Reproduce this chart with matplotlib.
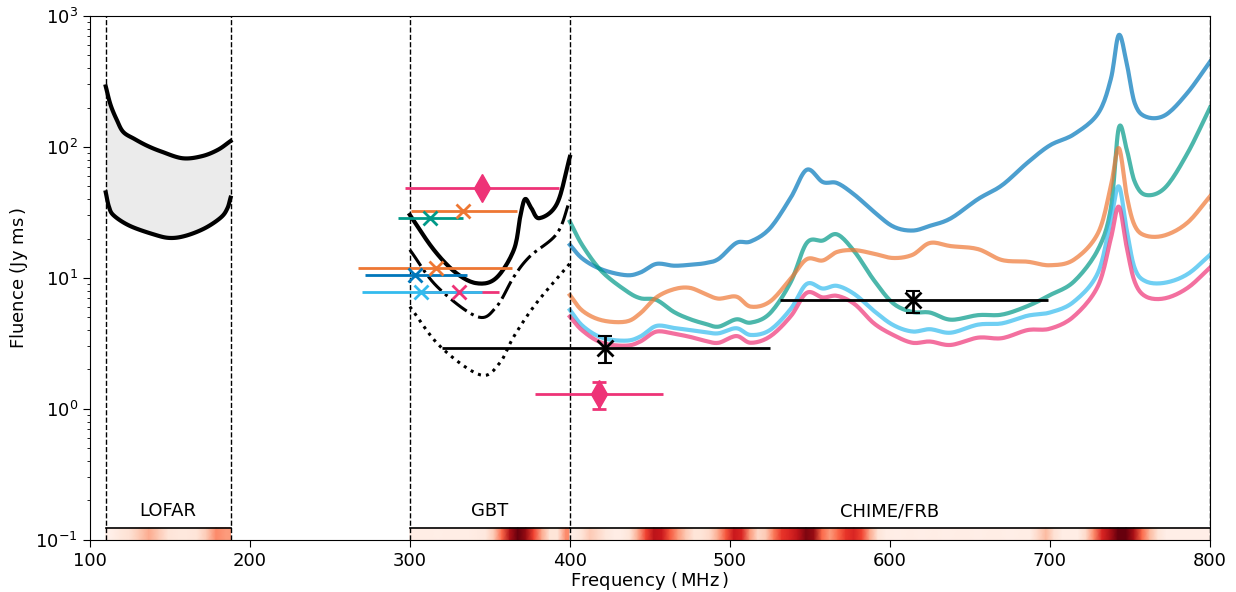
import matplotlib
matplotlib.use('Agg')
import matplotlib.pyplot as plt
import numpy as np

# LOFAR sensitivity band (upper / lower edge)
lofar_up_f = [110, 113, 117, 121, 128, 136, 145, 158, 170, 180, 188]
lofar_up_F = [290, 210, 160, 130, 115, 102, 92, 82, 85, 95, 111]
lofar_lo_f = [110, 112, 115, 125, 140, 150, 160, 172, 182, 186, 188]
lofar_lo_F = [45, 35, 30, 25, 21.5, 20.2, 21, 24, 29, 34, 41]

# GBT thresholds
gbt_solid_f = [300, 315, 329, 342, 354, 365, 369, 372, 376, 381, 392, 400]
gbt_solid_F = [30.3, 16.4, 10.9, 9.1, 10.0, 16.4, 29.4, 40, 34, 28.6, 37, 84]
gbt_dashdot_f = [300, 317, 342, 354, 365, 375, 392, 400]
gbt_dashdot_F = [16.4, 8.6, 5.07, 6.0, 10.2, 14.6, 21.9, 39.4]
gbt_dot_f = [300, 319, 344, 356, 365, 379, 400]
gbt_dot_F = [6.04, 3.0, 1.82, 2.23, 3.57, 6.4, 12.9]

# CHIME/FRB thresholds
chime_f = [400, 408, 420, 435, 444, 454, 465, 475, 485, 493, 504, 513, 525,
           538, 548, 558, 567, 578, 590, 602, 614, 625, 638, 655, 670, 686,
           700, 715, 730, 738, 743, 748, 753, 760, 772, 786, 800]
chime_blue = [17.9, 14.0, 11.6, 10.5, 11.0, 12.8, 12.4, 12.6, 13.0, 14.0, 18.5, 19.0, 23.9,
              41, 67, 54, 53, 43, 32, 24.7, 23, 25, 28.5, 40, 51, 76,
              103, 125, 180, 330, 716, 430, 215, 170, 175, 260, 448]
chime_teal = [26.9, 17.6, 11.2, 8.0, 7.0, 6.8, 5.5, 4.85, 4.45, 4.25, 4.83, 4.56, 5.37,
              9.3, 18.5, 19.3, 21.5, 15.8, 9.6, 6.4, 5.5, 5.44, 4.8, 5.2, 5.25, 6.1,
              7.4, 9.4, 16.5, 34, 140, 95, 54, 43, 49, 90, 200]
chime_orange = [7.4, 5.6, 4.75, 4.64, 5.37, 7.1, 8.2, 8.4, 7.5, 6.95, 7.2, 6.04, 6.6,
                9.9, 13.9, 13.6, 15.8, 16.3, 15.3, 14.2, 15.0, 18.5, 17.5, 16.6, 13.7, 13.3,
                12.5, 13.8, 22, 50, 98, 42, 25, 21, 21.2, 26.5, 42]
chime_cyan = [5.7, 4.3, 3.5, 3.32, 3.57, 4.3, 4.15, 4.0, 3.85, 3.78, 4.13, 3.67, 4.0,
              5.8, 9.0, 8.3, 8.7, 7.5, 5.6, 4.37, 3.9, 4.06, 3.82, 4.4, 4.5, 5.15,
              5.45, 6.6, 11, 28, 50, 23, 11.8, 9.4, 9.2, 10.7, 15]
chime_pink = [5.07, 3.95, 3.2, 3.04, 3.27, 3.89, 3.75, 3.55, 3.3, 3.2, 3.6, 3.2, 3.57,
              5.1, 7.7, 7.1, 7.3, 6.3, 4.5, 3.67, 3.2, 3.27, 3.08, 3.5, 3.47, 4.0,
              4.1, 5.1, 8.7, 20, 35, 17, 9.3, 7.2, 7.0, 8.4, 12]
chime_colors = ['#0077bb', '#009988', '#ee7733', '#33bbee', '#ee3377']

# detections / limits: (freq, fluence, freq lo, freq hi)
cross_f = [333, 312.7, 316.4, 303.3, 307, 331]
cross_F = [32.4, 28.7, 11.9, 10.5, 7.8, 7.8]
cross_lo = [301, 292.7, 267.7, 272, 270, 306]
cross_hi = [367, 333.3, 364, 336, 345, 356]
cross_col = ['#ee7733', '#009988', '#ee7733', '#0077bb', '#33bbee', '#ee3377']
draw_order = [0, 1, 2, 3, 5, 4]

diam_f = [345, 418]
diam_F = [48.6, 1.3]
diam_lo = [297, 378]
diam_hi = [393, 458]
diam_yerr = [0, 0.3]

star_f = [422, 614.7]
star_F = [2.93, 6.8]
star_lo = [320, 531]
star_hi = [525, 699]
star_ylo = [0.7, 1.4]
star_yhi = [0.7, 1.2]

# band strips (0..1 on Reds colormap)
lofar_strip_f = [110, 113, 119, 125, 131, 137, 143, 149, 155, 161, 167, 173, 179, 185, 188]
lofar_strip = [0.03, 0.03, 0.08, 0.12, 0.2, 0.3, 0.2, 0.1, 0.08, 0.08, 0.1, 0.2, 0.4, 0.35, 0.35]
gbt_strip_f = [300] + list(np.arange(302.5, 400, 5)) + [400]
gbt_strip = [0.05, 0.05, 0.05, 0.05, 0.04, 0.05, 0.05, 0.05, 0.05, 0.06, 0.08,
             0.2, 0.5, 0.85, 1.0, 0.9, 0.6, 0.3, 0.1, 0.1, 0.4, 0.4]
chime_strip_f = [400] + list(np.arange(402.5, 800, 5)) + [800]
chime_strip = [0.05, 0.05, 0.1, 0.2, 0.15, 0.08, 0.05, 0.05, 0.1, 0.3, 0.6,
               0.8, 0.75, 0.55, 0.35, 0.2, 0.1, 0.1, 0.15, 0.3, 0.55,
               0.75, 0.7, 0.35, 0.15, 0.2, 0.45, 0.65, 0.7, 0.8, 0.95,
               0.9, 0.5, 0.35, 0.5, 0.65, 0.7, 0.6, 0.3, 0.1, 0.05,
               0.04, 0.04, 0.05, 0.04, 0.04, 0.05, 0.04, 0.04, 0.05, 0.05,
               0.04, 0.04, 0.05, 0.05, 0.04, 0.04, 0.05, 0.05, 0.15, 0.25,
               0.12, 0.05, 0.05, 0.05, 0.15, 0.4, 0.7, 0.85, 1.0, 1.0,
               0.85, 0.5, 0.25, 0.1, 0.04, 0.04, 0.04, 0.04, 0.04, 0.04, 0.04]

band_edges = [110, 188, 300, 400, 800]
band_names = ['LOFAR', 'GBT', 'CHIME/FRB']
band_ranges = [(110, 188), (300, 400), (400, 800)]


def smooth(x, y, n=12):
    # Catmull-Rom through the read points (in log-fluence), only for drawing
    P = np.column_stack([np.asarray(x, float), np.log10(y)])
    P = np.vstack([2 * P[0] - P[1], P, 2 * P[-1] - P[-2]])
    t = np.linspace(0, 1, n, endpoint=False)[:, None]
    out = []
    for i in range(1, len(P) - 2):
        p0, p1, p2, p3 = P[i - 1], P[i], P[i + 1], P[i + 2]
        out.append(0.5 * (2 * p1 + (p2 - p0) * t + (2 * p0 - 5 * p1 + 4 * p2 - p3) * t ** 2
                          + (3 * p1 - p0 - 3 * p2 + p3) * t ** 3))
    out.append(P[-2][None])
    out = np.vstack(out)
    return out[:, 0], 10 ** out[:, 1]


fig = plt.figure(figsize=(12.36, 5.92), dpi=100)
ax = fig.add_axes([0.0726, 0.088, 0.9064, 0.885])
ax.set_yscale('log')

# LOFAR
ux, uy = smooth(lofar_up_f, lofar_up_F)
lx, ly = smooth(lofar_lo_f, lofar_lo_F)
ax.fill_between(ux, uy, np.interp(ux, lx, ly), color='#ebebeb', lw=0, zorder=1)
ax.plot(ux, uy, color='k', lw=3, zorder=3)
ax.plot(lx, ly, color='k', lw=3, zorder=3)

# GBT
ax.plot(*smooth(gbt_solid_f, gbt_solid_F), color='k', lw=3, zorder=3)
ax.plot(*smooth(gbt_dashdot_f, gbt_dashdot_F), color='k', lw=2.2, ls='-.', zorder=3)
ax.plot(*smooth(gbt_dot_f, gbt_dot_F), color='k', lw=2.2, ls=':', zorder=3)

# CHIME
for vals, c in zip([chime_blue, chime_teal, chime_orange, chime_cyan, chime_pink], chime_colors):
    ax.plot(*smooth(chime_f, vals), color=c, lw=3, alpha=0.7, zorder=2)

for i in draw_order:
    ax.errorbar(cross_f[i], cross_F[i],
                xerr=[[cross_f[i] - cross_lo[i]], [cross_hi[i] - cross_f[i]]],
                fmt='x', color=cross_col[i], ms=10, mew=2, elinewidth=2, zorder=4)

for i in range(len(diam_f)):
    ax.errorbar(diam_f[i], diam_F[i],
                xerr=[[diam_f[i] - diam_lo[i]], [diam_hi[i] - diam_f[i]]],
                fmt='d', color='#ee3377', ms=14, elinewidth=2, zorder=4)
    if diam_yerr[i]:
        ax.errorbar(diam_f[i], diam_F[i], yerr=diam_yerr[i], fmt='none',
                    ecolor='#ee3377', elinewidth=2, capsize=5, capthick=2, zorder=4)

for i in range(len(star_f)):
    ax.errorbar(star_f[i], star_F[i],
                xerr=[[star_f[i] - star_lo[i]], [star_hi[i] - star_f[i]]],
                fmt='x', color='k', ms=12, mew=2, elinewidth=2, zorder=4)
    ax.errorbar(star_f[i], star_F[i], yerr=[[star_ylo[i]], [star_yhi[i]]], fmt='none',
                ecolor='k', elinewidth=2, capsize=5, capthick=1.5, zorder=4)

# strips
strip_top = 0.1236
for sf, sv in [(lofar_strip_f, lofar_strip), (gbt_strip_f, gbt_strip), (chime_strip_f, chime_strip)]:
    sf = np.asarray(sf, dtype=float)
    C = np.vstack([sv, sv])
    ax.pcolormesh(sf, [0.1, strip_top], C, cmap='Reds', vmin=0, vmax=1,
                  shading='gouraud', zorder=1)
for (lo, hi), name in zip(band_ranges, band_names):
    ax.plot([lo, hi], [strip_top, strip_top], color='k', lw=1.2, zorder=3)
    ax.text((lo + hi) / 2, 0.165, name, ha='center', va='center', fontsize=13)

for e in band_edges:
    ax.axvline(e, color='k', ls='--', lw=1, zorder=2)

ax.set_xlim(100, 800)
ax.set_ylim(0.1, 1000)
ax.set_xticks(np.arange(100, 801, 100))
ax.tick_params(axis='both', which='major', labelsize=13, length=5)
ax.set_xlabel(r'Frequency $(\,\mathrm{MHz}\,)$', fontsize=13, labelpad=0)
ax.set_ylabel(r'Fluence $(\mathrm{Jy\ ms}\,)$', fontsize=13)

fig.savefig('out.png', dpi=100)
